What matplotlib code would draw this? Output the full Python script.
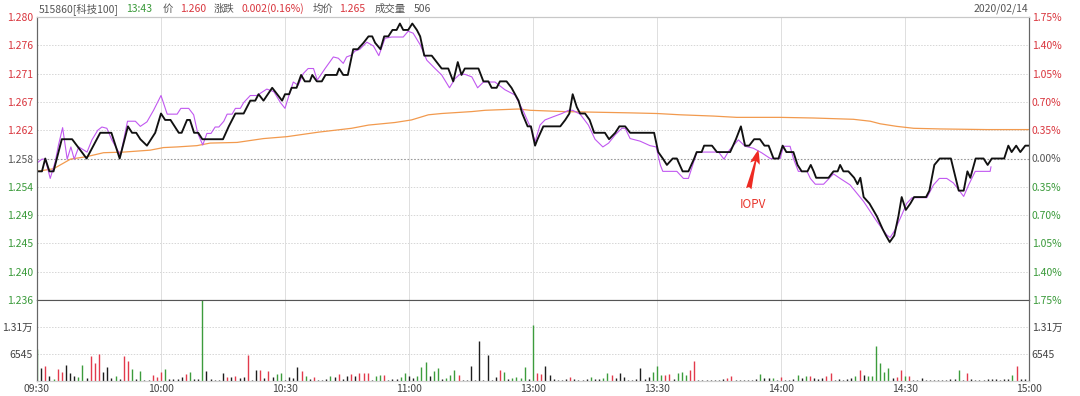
import matplotlib
matplotlib.use("Agg")
import matplotlib.pyplot as plt

plt.rcParams['font.family'] = ['Noto Sans CJK SC', 'DejaVu Sans']

# ---------------- data ----------------
PREV_CLOSE = 1.258
VOL_STEP = 6545

time_labels = ['09:30', '10:00', '10:30', '11:00', '13:00', '13:30', '14:00', '14:30', '15:00']
time_ticks = [0, 30, 60, 90, 120, 150, 180, 210, 240]

# last price (black), minute index since 09:30 (trading minutes)
price_t = [0, 1.2, 2, 3, 4, 6, 8.5, 12, 15.3, 18, 20, 22, 23, 24, 25, 26.6, 28.6, 30, 31, 32.3, 34.3, 35, 36.3, 37, 38, 39, 40, 45,
           46.4, 48, 50, 51.6, 52.8, 53.6, 54.8, 56.9, 59.3, 60, 61, 61.6, 62.8, 63.9, 64.8, 66, 66.6, 67.7, 68.9, 69.8, 72.5,
           73.1, 74.1, 75.2, 76.5, 77.6, 79, 80.2, 81.1, 81.8, 83.1, 84, 85, 86, 87, 87.8, 88.6, 89.8, 90.8, 91.9, 92.7, 93.7,
           95.5, 97.9, 99.5, 100.7, 101.8, 102.7, 103.5, 106.8, 108, 109.2, 110, 111.2, 112, 113.6, 114.8, 116.5, 117.4, 118.7,
           119.5, 120.5, 121.1, 122.5, 126.6, 127.8, 128.8, 129.6, 130.6, 131.4, 132.6, 133.7, 134.8, 137.4, 138.4, 139.9,
           140.9, 142.3, 143.5, 149.3, 150.3, 151.4, 152.4, 153.8, 154.8, 156.2, 157.6, 159, 159.6, 160.8, 161.4, 163.3, 164.5,
           167.7, 169.1, 170.3, 171.3, 172.3, 173.5, 174.9, 176, 177, 178.2, 179.4, 180.4, 181.3, 183, 184, 185, 186.4, 187.2,
           187.9, 188.5, 191.5, 192.7, 193.7, 194.3, 195.1, 196.3, 197.7, 198.5, 199.2, 200, 201.4, 203.2, 204.6, 205.4, 206.3,
           207.4, 208.4, 209.2, 210.2, 211.3, 212.2, 215.1, 215.9, 217.1, 218.4, 221.1, 223, 224.2, 225.1, 225.8, 227.1, 229,
           230, 231, 234, 235, 235.8, 236.9, 237.9, 239.1, 240]
price_v = [1.256, 1.256, 1.258, 1.256, 1.256, 1.261, 1.261, 1.258, 1.262, 1.262, 1.258, 1.263, 1.262, 1.262, 1.261, 1.260,
           1.262, 1.265, 1.264, 1.264, 1.262, 1.262, 1.264, 1.264, 1.262, 1.262, 1.261, 1.261, 1.263, 1.265, 1.265, 1.267,
           1.267, 1.268, 1.267, 1.269, 1.267, 1.268, 1.268, 1.269, 1.269, 1.271, 1.270, 1.270, 1.271, 1.270, 1.270, 1.271,
           1.271, 1.272, 1.271, 1.271, 1.275, 1.275, 1.276, 1.277, 1.277, 1.276, 1.275, 1.277, 1.277, 1.278, 1.278, 1.279,
           1.278, 1.278, 1.279, 1.278, 1.277, 1.274, 1.274, 1.272, 1.272, 1.270, 1.273, 1.271, 1.272, 1.272, 1.270, 1.270,
           1.269, 1.269, 1.270, 1.270, 1.269, 1.267, 1.265, 1.263, 1.263, 1.260, 1.261, 1.263, 1.263, 1.264, 1.265, 1.268,
           1.266, 1.265, 1.265, 1.264, 1.262, 1.262, 1.261, 1.262, 1.263, 1.263, 1.262, 1.262, 1.259, 1.258, 1.257, 1.258,
           1.258, 1.256, 1.256, 1.258, 1.259, 1.259, 1.260, 1.260, 1.259, 1.259, 1.261, 1.263, 1.260, 1.260, 1.261, 1.261,
           1.260, 1.260, 1.258, 1.258, 1.260, 1.259, 1.259, 1.257, 1.256, 1.256, 1.257, 1.256, 1.255, 1.255, 1.256, 1.256,
           1.257, 1.256, 1.256, 1.255, 1.254, 1.255, 1.252, 1.251, 1.249, 1.247, 1.246, 1.245, 1.246, 1.249, 1.252, 1.250,
           1.251, 1.252, 1.252, 1.253, 1.257, 1.258, 1.258, 1.253, 1.253, 1.256, 1.255, 1.258, 1.258, 1.257, 1.258, 1.258,
           1.260, 1.259, 1.260, 1.259, 1.260, 1.260]

# IOPV (purple)
iopv_t = [0, 1.2, 2, 3.2, 4.4, 5.2, 6.2, 7.3, 8.2, 9.0, 10.1, 12.1, 13.3, 14.7, 15.7, 16.9, 18.1, 20.2, 21.9, 23.8, 25.0, 26.6,
          28.2, 30.0, 31.5, 33.9, 34.8, 36.7, 37.9, 38.9, 40.1, 41.1, 42.1, 43.1, 44.0, 45.2, 46.0, 47.2, 48.0, 49.2, 50.0,
          51.6, 53.2, 55.6, 57.3, 58.9, 60.0, 61.0, 62.0, 63.2, 64.4, 65.6, 66.9, 67.8, 69.7, 71.7, 72.9, 74.1, 74.9, 76.1,
          76.9, 78.1, 79.8, 81.4, 82.7, 84.2, 85.8, 88.6, 89.8, 91.0, 92.7, 94.3, 96.3, 97.9, 99.8, 101.1, 102.3, 103.5,
          105.2, 106.6, 108.0, 110.8, 113.2, 115.6, 117.7, 119.7, 120.5, 121.7, 122.9, 124.9, 127.0, 128.6, 129.6, 131.4,
          133.4, 135.0, 136.9, 138.3, 139.9, 141.5, 142.3, 143.5, 145.9, 148.3, 149.8, 150.8, 151.4, 154.8, 156.4, 157.6,
          159.6, 161.2, 164.9, 166.2, 167.5, 169.7, 171.3, 173.3, 175.3, 177.4, 179.8, 180.6, 182.2, 183.0, 184.2, 186.3,
          187.1, 188.3, 190.3, 192.7, 194.3, 196.7, 200.0, 203.2, 205.6, 206.4, 207.6, 209.2, 210.4, 211.7, 215.3, 216.9,
          218.3, 220.1, 221.7, 224.2, 225.4, 227.0, 230.6, 230.8]
iopv_v = [1.2573, 1.2579, 1.2579, 1.2549, 1.2575, 1.2601, 1.2628, 1.2579, 1.2598, 1.2579, 1.2598, 1.2590, 1.2609, 1.2624,
          1.2629, 1.2627, 1.2609, 1.2585, 1.2638, 1.2638, 1.2630, 1.2637, 1.2655, 1.2678, 1.2649, 1.2649, 1.2658, 1.2658,
          1.2648, 1.2619, 1.2601, 1.2619, 1.2619, 1.2629, 1.2629, 1.2638, 1.2649, 1.2649, 1.2658, 1.2658, 1.2667, 1.2678,
          1.2678, 1.2688, 1.2684, 1.2667, 1.2658, 1.2679, 1.2699, 1.2694, 1.2712, 1.2720, 1.2720, 1.2702, 1.2720, 1.2738,
          1.2736, 1.2728, 1.2738, 1.2741, 1.2747, 1.2750, 1.2761, 1.2755, 1.2740, 1.2767, 1.2769, 1.2769, 1.2778, 1.2775,
          1.2757, 1.2733, 1.2720, 1.2710, 1.2690, 1.2704, 1.2711, 1.2711, 1.2707, 1.2690, 1.2699, 1.2699, 1.2687, 1.2679,
          1.2653, 1.2624, 1.2606, 1.2632, 1.2640, 1.2645, 1.2650, 1.2655, 1.2655, 1.2649, 1.2632, 1.2610, 1.2598, 1.2604,
          1.2617, 1.2627, 1.2627, 1.2611, 1.2607, 1.2600, 1.2598, 1.2570, 1.2560, 1.2560, 1.2549, 1.2549, 1.2589, 1.2590,
          1.2590, 1.2579, 1.2593, 1.2609, 1.2599, 1.2596, 1.2589, 1.2580, 1.2580, 1.2599, 1.2599, 1.2580, 1.2560, 1.2560,
          1.2549, 1.2540, 1.2540, 1.2556, 1.2549, 1.2539, 1.2513, 1.2482, 1.2461, 1.2457, 1.2469, 1.2492, 1.2510, 1.2519,
          1.2519, 1.2539, 1.2549, 1.2549, 1.2542, 1.2521, 1.2539, 1.2560, 1.2560, 1.2567]

# average price (orange)
avg_t = [0, 4.0, 8.1, 12.1, 16.1, 21.0, 27.4, 30.6, 33.9, 38.7, 41.9, 48.4, 54.8, 60.5, 68.1, 76.1, 80.2, 86.6, 90.6, 94.7,
         97.9, 105.2, 108.4, 116.5, 119.3, 127.4, 135.4, 143.5, 150.0, 155.6, 163.7, 169.3, 179.8, 187.9, 197.5, 201.6,
         204.0, 208.0, 212.1, 218.5, 229.8, 240]
avg_v = [1.2560, 1.2564, 1.2579, 1.2583, 1.2589, 1.2590, 1.2593, 1.2597, 1.2598, 1.2600, 1.2604, 1.2605, 1.2611, 1.2614,
         1.2621, 1.2627, 1.2632, 1.2636, 1.2640, 1.2648, 1.2650, 1.2653, 1.2655, 1.2657, 1.2655, 1.2653, 1.2652, 1.2651,
         1.2650, 1.2648, 1.2646, 1.2644, 1.2644, 1.2643, 1.2641, 1.2638, 1.2634, 1.2630, 1.2627, 1.2626, 1.2625, 1.2625]

# per-minute volume (rows of 10 minutes)
volume = [
    7650, 3150, 3570, 1280, 600, 2890, 2300, 3830, 1870, 1190,
    940, 3830, 680, 6040, 4250, 6550, 2300, 3320, 680, 1280,
    430, 6120, 4760, 2810, 430, 2470, 340, 340, 1450, 1020,
    2210, 2810, 430, 430, 430, 1020, 1790, 2300, 430, 430,
    19600, 2470, 430, 340, 340, 1870, 1020, 1020, 1280, 680,
    850, 6380, 340, 2550, 2550, 680, 2380, 1020, 1700, 2040,
    340, 1020, 680, 3490, 2470, 1190, 430, 850, 340, 340,
    430, 1280, 1020, 1700, 430, 1110, 1700, 1190, 1870, 2040,
    1870, 340, 1110, 1450, 1450, 340, 430, 600, 1020, 1960,
    1110, 680, 1110, 3400, 4510, 1280, 2470, 3230, 430, 680,
    1450, 2550, 1450, 340, 340, 3660, 340, 9780, 340, 6290,
    340, 850, 2720, 2300, 430, 680, 850, 680, 3490, 510,
    13600, 2040, 1700, 3570, 1360, 430, 340, 340, 430, 940,
    510, 340, 340, 510, 1020, 510, 510, 680, 2040, 1450,
    770, 1870, 850, 340, 340, 510, 3060, 510, 1020, 2300,
    3570, 1360, 1450, 1700, 510, 2040, 2130, 1360, 2720, 4850,
    340, 340, 340, 340, 340, 340, 510, 680, 1280, 340,
    340, 340, 340, 340, 510, 1700, 680, 680, 680, 340,
    850, 340, 340, 510, 1450, 680, 1110, 1190, 680, 600,
    680, 1110, 2040, 340, 600, 340, 510, 680, 1190, 2640,
    1360, 1110, 1110, 8500, 4250, 2210, 3150, 680, 940, 2720,
    1110, 1110, 340, 340, 680, 340, 340, 340, 340, 340,
    340, 430, 600, 2550, 340, 2040, 510, 340, 340, 340,
    510, 510, 510, 340, 510, 510, 1360, 3740, 510, 510,
    340,
]
# per-minute direction: r up, g down, k unchanged (rows of 10 minutes)
vol_dir = list(
    "gkrkgrrkkk" "ggkrrrkkkg" "krrgkgkkrr" "rgkkkkrgkk" "gkkkkkrkrk"
    "krkkrkrkgg" "kkkkrgkrkk" "kgkrkkrkrr" "rkggrkkkgg" "kkgggkggkg"
    "ggrkkkkkkk" "kkrgkggggk" "grrkkkkkkr" "kkkkgkkggr" "kkkkkkkkkg"
    "ggrrkgggrr" "kkkkkkkrrk" "kkkkkgkkgk" "rkkkgkgrkk" "krrkkkkkgr"
    "kggggggkrr" "grkkkkkkkk" "kkkgkrkkkk" "kkkkkkgrkk" "k"
)

# ---------------- style ----------------
RED = '#d9363e'
GREEN = '#3a9a3a'
GRAY_TXT = '#555555'
DIR_COLORS = {'r': '#e23a4c', 'g': '#3c9c3c', 'k': '#1e1e1e'}

W_PX, H_PX = 1080, 396
fig = plt.figure(figsize=(W_PX / 100, H_PX / 100), dpi=100)
fig.patch.set_facecolor('white')

left = 37 / W_PX
width = (1029 - 37) / W_PX
ax = fig.add_axes([left, 1 - 300 / H_PX, width, 283 / H_PX])
axv = fig.add_axes([left, 1 - 381 / H_PX, width, 81 / H_PX], sharex=ax)

FS = 7.5

# ---- price panel ----
steps = list(range(-5, 6))
ticks = [PREV_CLOSE * (1 + k * 0.0035) for k in steps]
ax.set_xlim(0, 240)
ax.set_ylim(ticks[0], ticks[-1])

ax.plot(avg_t, avg_v, color='#f29a4e', lw=0.9, zorder=3)
ax.plot(iopv_t, iopv_v, color='#c158f0', lw=0.8, zorder=4)
ax.plot(price_t, price_v, color='#111111', lw=1.35, zorder=5)

for k, t in zip(steps, ticks):
    if k == 0:
        ax.axhline(t, color='#9a9a9a', lw=0.8, ls=(0, (1.5, 1.5)), zorder=1)
    elif abs(k) < 5:
        ax.axhline(t, color='#d6d6d6', lw=0.7, ls=(0, (1.5, 1.5)), zorder=1)
for xt in time_ticks[1:-1]:
    ax.axvline(xt, color='#dedede', lw=0.7, zorder=1)
    axv.axvline(xt, color='#dedede', lw=0.7, zorder=1)

ax.set_yticks(ticks)
ax.set_yticklabels([f"{t:.3f}" for t in ticks], fontsize=FS)
for lab, k in zip(ax.get_yticklabels(), steps):
    lab.set_color(RED if k > 0 else (GREEN if k < 0 else GRAY_TXT))
ax.tick_params(axis='y', length=0, pad=3)
ax.tick_params(axis='x', length=0, labelbottom=False)

ax2 = ax.twinx()
ax2.set_ylim(ax.get_ylim())
ax2.set_yticks(ticks)
ax2.set_yticklabels([f"{abs(k) * 0.35:.2f}%" for k in steps], fontsize=FS)
for lab, k in zip(ax2.get_yticklabels(), steps):
    lab.set_color(RED if k > 0 else (GREEN if k < 0 else GRAY_TXT))
ax2.tick_params(axis='y', length=0, pad=2)

for a in (ax, ax2):
    a.spines['left'].set_color('#666666')
    a.spines['right'].set_color('#666666')
    a.spines['top'].set_color('#c8c8c8')
    a.spines['bottom'].set_color('#555555')
    for s in a.spines.values():
        s.set_linewidth(0.8)

# IOPV annotation
ax.annotate('', xy=(174.5, 1.2593), xytext=(172.2, 1.2533),
            arrowprops=dict(arrowstyle='fancy,head_length=1.0,head_width=0.7,tail_width=0.4',
                            color='#ee2a22', lw=0, shrinkA=0, shrinkB=0), zorder=6)
ax.text(173.2, 1.2508, 'IOPV', color='#e8362d', fontsize=8.5, ha='center', va='center', zorder=6)

# ---- volume panel ----
vmax = VOL_STEP * 3
axv.set_ylim(0, vmax)
minutes = list(range(len(volume)))
axv.vlines(minutes, 0, volume, colors=[DIR_COLORS[d] for d in vol_dir], lw=1.0, zorder=3)
for yv in (VOL_STEP, 2 * VOL_STEP):
    axv.axhline(yv, color='#d6d6d6', lw=0.7, ls=(0, (1.5, 1.5)), zorder=1)

vol_ticks = [VOL_STEP, 2 * VOL_STEP]
vol_labels = [f"{VOL_STEP}", f"{2 * VOL_STEP / 10000:.2f}万"]
axv.set_yticks(vol_ticks)
axv.set_yticklabels(vol_labels, fontsize=FS, color='#444444')
axv.tick_params(axis='y', length=0, pad=3)
axv2 = axv.twinx()
axv2.set_ylim(0, vmax)
axv2.set_yticks(vol_ticks)
axv2.set_yticklabels(vol_labels, fontsize=FS, color='#444444')
axv2.tick_params(axis='y', length=0, pad=2)

axv.set_xticks(time_ticks)
axv.set_xticklabels(time_labels, fontsize=FS, color='#444444')
axv.tick_params(axis='x', length=0, pad=2)

for a in (axv, axv2):
    a.spines['top'].set_visible(False)
    a.spines['left'].set_color('#666666')
    a.spines['right'].set_color('#666666')
    a.spines['bottom'].set_color('#cfcfcf')
    for s in a.spines.values():
        s.set_linewidth(0.8)

# ---- header ----
header = [
    (39, '515860[科技100]', GRAY_TXT),
    (126, '13:43', GREEN),
    (163, '价', GRAY_TXT),
    (180, '1.260', RED),
    (214, '涨跌', GRAY_TXT),
    (241, '0.002(0.16%)', RED),
    (313, '均价', GRAY_TXT),
    (339, '1.265', RED),
    (375, '成交量', GRAY_TXT),
    (414, '506', GRAY_TXT),
]
for xp, txt, col in header:
    fig.text(xp / W_PX, 1 - 9 / H_PX, txt, color=col, fontsize=FS, ha='left', va='center')
fig.text(1028 / W_PX, 1 - 9 / H_PX, '2020/02/14', color=GRAY_TXT, fontsize=FS, ha='right', va='center')

fig.savefig('out.png', dpi=100, facecolor='white')
